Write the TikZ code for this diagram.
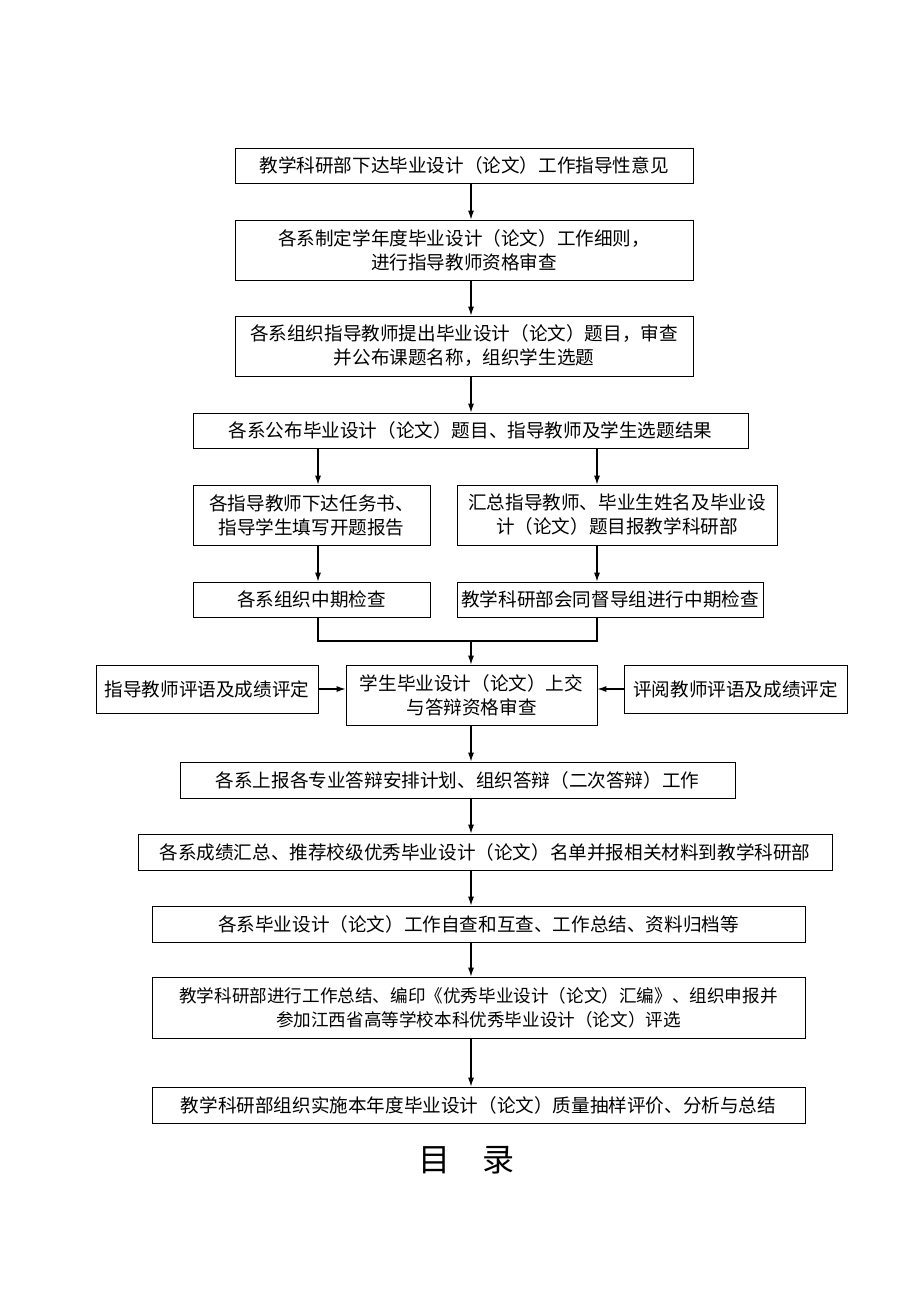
\documentclass[tikz,border=0pt]{standalone}
\usepackage{fontspec}
\setmainfont{Noto Sans CJK SC}
\usetikzlibrary{arrows.meta}

\begin{document}
\begin{tikzpicture}[x=1pt,y=-1pt,
  box/.style={draw, line width=0.8pt, inner sep=0pt, align=center,
    font=\fontsize{18.6}{24}\selectfont},
  arr/.style={draw, line width=1.1pt, -{Latex[length=9pt,width=6pt]}},
  ln/.style={draw, line width=1.1pt}]
\useasboundingbox (0,0) rectangle (920,1302);

\coordinate (ax) at (471,0);
\coordinate (lx) at (318,0);
\coordinate (rx) at (597,0);

\node[box, minimum width=458, minimum height=35] (b1) at (464,165.5) {教学科研部下达毕业设计（论文）工作指导性意见};
\node[box, minimum width=458, minimum height=60] (b2) at (464,250) {各系制定学年度毕业设计（论文）工作细则，\\进行指导教师资格审查};
\node[box, minimum width=458, minimum height=60] (b3) at (464,346) {各系组织指导教师提出毕业设计（论文）题目，审查\\并公布课题名称，组织学生选题};
\node[box, minimum width=555, minimum height=35] (b4) at (470.5,430.5) {各系公布毕业设计（论文）题目、指导教师及学生选题结果};

\node[box, minimum width=237, minimum height=60] (tl) at (311.5,515) {各指导教师下达任务书、\\指导学生填写开题报告};
\node[box, minimum width=320, minimum height=60] (tr) at (617,515) {汇总指导教师、毕业生姓名及毕业设\\计（论文）题目报教学科研部};
\node[box, minimum width=237, minimum height=35] (ml) at (311.5,599.5) {各系组织中期检查};
\node[box, minimum width=306, minimum height=35] (mr) at (610,599.5) {教学科研部会同督导组进行中期检查};

\node[box, minimum width=251, minimum height=60] (sub) at (471.5,695) {学生毕业设计（论文）上交\\与答辩资格审查};
\node[box, minimum width=222, minimum height=48] (gl) at (207,689) {指导教师评语及成绩评定};
\node[box, minimum width=223, minimum height=48] (gr) at (735.5,689) {评阅教师评语及成绩评定};

\node[box, minimum width=555, minimum height=36] (b8) at (457.5,780) {各系上报各专业答辩安排计划、组织答辩（二次答辩）工作};
\node[box, minimum width=694, minimum height=36] (b9) at (485,852) {各系成绩汇总、推荐校级优秀毕业设计（论文）名单并报相关材料到教学科研部};
\node[box, minimum width=653, minimum height=36] (b10) at (478.5,924) {各系毕业设计（论文）工作自查和互查、工作总结、资料归档等};
\node[box, minimum width=653, minimum height=61, font=\fontsize{17.6}{24}\selectfont] (b11) at (478.5,1007.5) {教学科研部进行工作总结、编印《优秀毕业设计（论文）汇编》、组织申报并\\参加江西省高等学校本科优秀毕业设计（论文）评选};
\node[box, minimum width=653, minimum height=36] (b12) at (478.5,1105) {教学科研部组织实施本年度毕业设计（论文）质量抽样评价、分析与总结};

\node[font=\fontsize{32}{36}\selectfont] (title) at (466,1160) {目\hspace{1em}录};

% main column
\path[arr] (b1.south -| ax) -- (b2.north -| ax);
\path[arr] (b2.south -| ax) -- (b3.north -| ax);
\path[arr] (b3.south -| ax) -- (b4.north -| ax);

% two branches
\path[arr] (b4.south -| lx) -- (tl.north -| lx);
\path[arr] (b4.south -| rx) -- (tr.north -| rx);
\path[arr] (tl.south -| lx) -- (ml.north -| lx);
\path[arr] (tr.south -| rx) -- (mr.north -| rx);

% join
\coordinate (mj) at (471,641);
\path[ln] (ml.south -| lx) |- (mj) -| (mr.south -| rx);
\path[arr] (mj) -- (sub.north -| mj);
\path[arr] (gl.east) -- (sub.west |- gl.east);
\path[arr] (gr.west) -- (sub.east |- gr.west);

\path[arr] (sub.south -| ax) -- (b8.north -| ax);
\path[arr] (b8.south -| ax) -- (b9.north -| ax);
\path[arr] (b9.south -| ax) -- (b10.north -| ax);
\path[arr] (b10.south -| ax) -- (b11.north -| ax);
\path[arr] (b11.south -| ax) -- (b12.north -| ax);
\end{tikzpicture}
\end{document}
